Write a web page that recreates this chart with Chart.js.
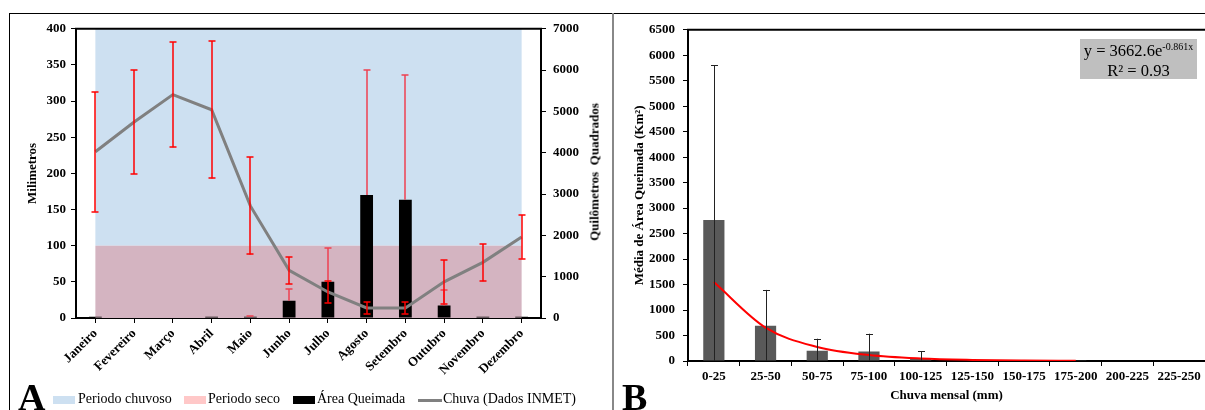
<!DOCTYPE html>
<html>
<head>
<meta charset="utf-8">
<script src="https://cdn.jsdelivr.net/npm/chart.js@4.4.1/dist/chart.umd.min.js"></script>
<style>
body { margin: 0; background: #fff; width: 1205px; height: 410px; overflow: hidden; position: relative; font-family: 'Liberation Serif', 'Times New Roman', serif; color: #000; }
.abs { position: absolute; }
.lg { font-size: 14px; line-height: 16px; white-space: nowrap; }
.letra { font-size: 38px; line-height: 38px; font-weight: bold; }
</style>
</head>
<body>
<!-- molduras -->
<div class="abs" style="left:9px;top:13px;width:1196px;height:1px;background:#000"></div>
<div class="abs" style="left:9px;top:13px;width:1px;height:397px;background:#000"></div>
<div class="abs" style="left:612px;top:13px;width:2px;height:397px;background:#888"></div>

<canvas id="chartA" class="abs" style="left:10px;top:14px" width="600" height="396"></canvas>
<canvas id="chartB" class="abs" style="left:614px;top:14px" width="591" height="396"></canvas>

<div class="abs" style="left:594px;top:172px;transform:translate(-50%,-50%) rotate(-90deg);white-space:pre;font-weight:bold;font-size:13px;line-height:15px">Quilômetros  Quadrados</div>

<!-- legenda A -->
<div class="abs letra" style="left:18px;top:378px">A</div>
<div class="abs" style="left:53px;top:396px;width:22px;height:8px;background:#cde0f1"></div>
<div class="abs lg" style="left:78px;top:391px">Periodo chuvoso</div>
<div class="abs" style="left:184px;top:396px;width:22px;height:8px;background:#ffc8c8"></div>
<div class="abs lg" style="left:208px;top:391px">Periodo seco</div>
<div class="abs" style="left:293px;top:396px;width:22px;height:8px;background:#000"></div>
<div class="abs lg" style="left:317px;top:391px">Área Queimada</div>
<div class="abs" style="left:418px;top:399px;width:24px;height:3px;background:#808080"></div>
<div class="abs lg" style="left:443px;top:391px">Chuva (Dados INMET)</div>

<!-- painel B -->
<div class="abs letra" style="left:622px;top:378px">B</div>
<div class="abs" style="left:1080px;top:39px;width:117px;height:37px;padding-top:3px;background:#bfbfbf;text-align:center;font-size:16.5px;line-height:18px;white-space:nowrap">y = 3662.6e<span style="font-size:10px;position:relative;top:-6px">-0.861x</span><br>R² = 0.93</div>

<script>
// Painel A - chuva mensal x área queimada
const meses = ['Janeiro', 'Fevereiro', 'Março', 'Abril', 'Maio', 'Junho', 'Julho', 'Agosto', 'Setembro', 'Outubro', 'Novembro', 'Dezembro'];
const chuva = [230, 271, 309, 288, 155, 66, 36, 14, 14, 50, 77, 112];
const chuvaDesvio = [83, 72, 73, 95, 67, 19, 15, 8, 8, 30, 26, 30];
const areaQueimada = [30, 0, 0, 30, 30, 420, 875, 2975, 2860, 300, 30, 30];
const areaDesvio = [0, 0, 0, 0, 30, 270, 816, 3025, 3020, 373, 0, 0];
const faixaChuvosa = [100, 400];
const faixaSeca = [0, 100];

// Painel B - médias por classe de chuva
const classes = ['0-25', '25-50', '50-75', '75-100', '100-125', '125-150', '150-175', '175-200', '200-225', '225-250'];
const mediaArea = [2765, 690, 200, 185, 40, 12, 8, 3, 10, 0];
const desvioClasse = [3040, 705, 237, 350, 155, 0, 0, 0, 0, 0];
const tendencia = [1548, 654, 276, 117, 49, 21, 9, 4];

Chart.defaults.font.family = "'Liberation Serif', 'Times New Roman', serif";
Chart.defaults.color = '#000';

const tickFont = { size: 13, weight: 'bold' };
const semMilhar = v => String(v);

function barraErro(ctx, x, yTop, yBot, cor, meia, largura) {
    const desl = largura === 1 ? 0.5 : 0;
    const px = Math.round(x) + desl;
    ctx.strokeStyle = cor;
    ctx.lineWidth = largura;
    ctx.beginPath();
    ctx.moveTo(px, yTop);
    ctx.lineTo(px, yBot);
    ctx.moveTo(px - meia, Math.round(yTop) + desl);
    ctx.lineTo(px + meia, Math.round(yTop) + desl);
    ctx.stroke();
}

function bordaTopo(chart) {
    const { ctx, chartArea } = chart;
    ctx.save();
    ctx.strokeStyle = '#000';
    ctx.lineWidth = 2;
    ctx.beginPath();
    ctx.moveTo(chartArea.left - 1, chartArea.top);
    ctx.lineTo(chartArea.right + 1, chartArea.top);
    ctx.stroke();
    ctx.restore();
}

// Faixas de período chuvoso / seco
const faixasPlugin = {
    id: 'faixas',
    beforeDatasetsDraw(chart) {
        const { ctx, scales: { x, y } } = chart;
        const x0 = x.getPixelForValue(0);
        const x1 = x.getPixelForValue(meses.length - 1);
        ctx.save();
        ctx.fillStyle = '#cde0f1';
        let yA = y.getPixelForValue(faixaChuvosa[1]), yB = y.getPixelForValue(faixaChuvosa[0]);
        ctx.fillRect(x0, yA, x1 - x0, yB - yA);
        ctx.fillStyle = '#d4b4c1';
        yA = y.getPixelForValue(faixaSeca[1]); yB = y.getPixelForValue(faixaSeca[0]);
        ctx.fillRect(x0, yA, x1 - x0, yB - yA);
        ctx.restore();
    }
};

const errosA = {
    id: 'errosA',
    afterDatasetsDraw(chart) {
        const { ctx, scales: { x, y, y1 }, chartArea } = chart;
        ctx.save();
        ctx.beginPath();
        ctx.rect(chartArea.left, chartArea.top, chartArea.right - chartArea.left, chartArea.bottom - chartArea.top);
        ctx.clip();
        areaQueimada.forEach((v, i) => {
            if (!areaDesvio[i]) return;
            barraErro(ctx, x.getPixelForValue(i), y1.getPixelForValue(v + areaDesvio[i]), y1.getPixelForValue(v), '#ee4050', 3.5, 1.5);
        });
        chuva.forEach((v, i) => {
            const px = x.getPixelForValue(i);
            const yTop = y.getPixelForValue(v + chuvaDesvio[i]);
            const yBot = y.getPixelForValue(Math.max(v - chuvaDesvio[i], 0));
            barraErro(ctx, px, yTop, yBot, '#ff0000', 3.5, 1.5);
            const pb = Math.round(yBot);
            ctx.beginPath();
            ctx.moveTo(Math.round(px) - 3.5, pb);
            ctx.lineTo(Math.round(px) + 3.5, pb);
            ctx.stroke();
        });
        ctx.restore();
    },
    afterDraw: bordaTopo
};

new Chart(document.getElementById('chartA'), {
    data: {
        labels: meses,
        datasets: [
            {
                type: 'line',
                label: 'Chuva (Dados INMET)',
                data: chuva,
                yAxisID: 'y',
                borderColor: '#808080',
                borderWidth: 3,
                pointRadius: 0,
                tension: 0,
                order: 0
            },
            {
                type: 'bar',
                label: 'Área Queimada',
                data: areaQueimada,
                yAxisID: 'y1',
                backgroundColor: '#000',
                barPercentage: 0.33,
                categoryPercentage: 1,
                order: 1
            }
        ]
    },
    options: {
        responsive: false,
        animation: false,
        devicePixelRatio: 1,
        layout: { padding: { top: 13, left: 0, right: 0, bottom: 0 }, autoPadding: false },
        plugins: { legend: { display: false }, tooltip: { enabled: false } },
        scales: {
            x: {
                grid: { offset: false, drawOnChartArea: false, color: '#000', tickLength: 5 },
                border: { color: '#000', width: 2 },
                ticks: { font: tickFont, color: '#000', minRotation: 45, maxRotation: 45, padding: 3, autoSkip: false },
                afterFit: s => { s.height = 92; }
            },
            y: {
                position: 'left',
                min: 0,
                max: 400,
                grid: { drawOnChartArea: false, color: '#000', tickLength: 5 },
                border: { color: '#000', width: 2 },
                ticks: { stepSize: 50, font: tickFont, color: '#000', padding: 5, callback: semMilhar },
                title: { display: true, text: 'Milimetros', font: { size: 13, weight: 'bold' }, padding: { top: 15, bottom: 0 } },
                afterFit: s => { s.width = 66; }
            },
            y1: {
                position: 'right',
                min: 0,
                max: 7000,
                grid: { drawOnChartArea: false, color: '#000', tickLength: 5 },
                border: { color: '#000', width: 2 },
                ticks: { stepSize: 1000, font: tickFont, color: '#000', padding: 7, callback: semMilhar },
                afterFit: s => { s.width = 69; }
            }
        }
    },
    plugins: [faixasPlugin, errosA]
});

const errosB = {
    id: 'errosB',
    afterDatasetsDraw(chart) {
        const { ctx, scales: { x, y } } = chart;
        ctx.save();
        mediaArea.forEach((v, i) => {
            if (!desvioClasse[i]) return;
            barraErro(ctx, x.getPixelForValue(i), y.getPixelForValue(v + desvioClasse[i]), y.getPixelForValue(Math.max(v - desvioClasse[i], 0)), '#222', 3.5, 1);
        });
        ctx.restore();
    },
    afterDraw: bordaTopo
};

new Chart(document.getElementById('chartB'), {
    data: {
        labels: classes,
        datasets: [
            {
                type: 'line',
                label: 'Exponencial',
                data: tendencia,
                borderColor: '#ff0000',
                borderWidth: 2,
                pointRadius: 0,
                cubicInterpolationMode: 'monotone',
                order: 0
            },
            {
                type: 'bar',
                label: 'Média de Área Queimada',
                data: mediaArea,
                backgroundColor: '#595959',
                barPercentage: 0.41,
                categoryPercentage: 1,
                order: 1
            }
        ]
    },
    options: {
        responsive: false,
        animation: false,
        devicePixelRatio: 1,
        layout: { padding: { top: 14, left: 0, right: 0, bottom: 0 }, autoPadding: false },
        plugins: { legend: { display: false }, tooltip: { enabled: false } },
        scales: {
            x: {
                grid: { drawOnChartArea: false, color: '#000', tickLength: 5 },
                border: { color: '#000', width: 2 },
                ticks: { font: tickFont, color: '#000', maxRotation: 0, padding: 3, autoSkip: false },
                title: { display: true, text: 'Chuva mensal (mm)', font: { size: 13, weight: 'bold' }, padding: { top: 0, bottom: 7 } },
                afterFit: s => { s.height = 49; }
            },
            y: {
                min: 0,
                max: 6500,
                grid: { drawOnChartArea: false, color: '#000', tickLength: 5 },
                border: { color: '#000', width: 2 },
                ticks: { stepSize: 500, font: tickFont, color: '#000', padding: 8, callback: semMilhar },
                title: { display: true, text: 'Média de Área Queimada (Km²)', font: { size: 13, weight: 'bold' }, padding: { top: 18, bottom: 0 } },
                afterFit: s => { s.width = 74; }
            }
        }
    },
    plugins: [errosB]
});
</script>
</body>
</html>
